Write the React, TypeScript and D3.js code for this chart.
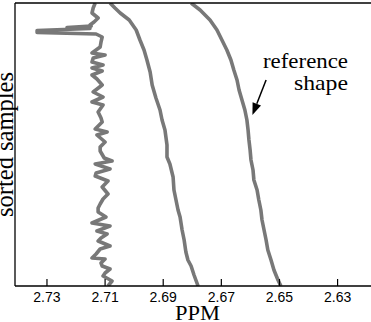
import React from "react";
import * as d3 from "d3";

// sorted sample index (0 = top) and chemical shift in PPM
const noisySeries: [number, number][] = [
  [0, 2.7134], [5, 2.7141], [10, 2.7145], [15, 2.7124], [19, 2.7138], [22, 2.7152],
  [23, 2.7148], [24.5, 2.7231], [25.5, 2.7152], [27.5, 2.7334], [29.5, 2.7334],
  [31, 2.7131], [34, 2.711], [39, 2.7114], [44, 2.7117], [50, 2.7145], [52, 2.71],
  [55, 2.7141], [59, 2.7145], [62, 2.7107], [65, 2.7145], [68, 2.711], [72, 2.7145],
  [76, 2.7128], [82, 2.711], [89, 2.7141], [94, 2.7107], [99, 2.7145], [102, 2.7107],
  [109, 2.7124], [115, 2.7114], [119, 2.711], [126, 2.7134], [129, 2.7093], [132, 2.7128],
  [139, 2.71], [144, 2.7117], [148, 2.7117], [155, 2.7103], [158, 2.7076], [161, 2.7134],
  [166, 2.7083], [170, 2.7131], [173, 2.7134], [178, 2.709], [184, 2.711], [191, 2.709],
  [196, 2.7107], [201, 2.7117], [205, 2.7124], [209, 2.7124], [214, 2.7097], [220, 2.7145],
  [223, 2.7083], [228, 2.7128], [231, 2.7093], [235, 2.7114], [238, 2.7124], [243, 2.7083],
  [246, 2.7117], [251, 2.7131], [255, 2.7145], [256, 2.71], [260, 2.7114], [263, 2.711],
  [266, 2.7083], [270, 2.71], [273, 2.7107], [278, 2.7076], [283, 2.709],
];

const middleSeries: [number, number][] = [
  [0, 2.7083], [5, 2.7066], [10, 2.7048], [17, 2.7017], [27, 2.6993], [37, 2.698],
  [47, 2.6966], [57, 2.6956], [69, 2.6945], [82, 2.6938], [95, 2.6925], [107, 2.6911],
  [117, 2.6904], [127, 2.6894], [142, 2.6887], [154, 2.6887], [161, 2.6877], [174, 2.6866],
  [187, 2.6863], [197, 2.6856], [207, 2.6849], [214, 2.6842], [227, 2.6835], [237, 2.6828],
  [249, 2.6822], [257, 2.6815], [263, 2.6804], [272, 2.6794], [283, 2.678],
];

const referenceSeries: [number, number][] = [
  [0, 2.6804], [7, 2.6773], [17, 2.6739], [27, 2.6715], [37, 2.6698], [47, 2.6681],
  [57, 2.6667], [67, 2.6657], [77, 2.6646], [87, 2.6639], [97, 2.6629], [107, 2.6619],
  [117, 2.6612], [127, 2.6608], [137, 2.6605], [147, 2.6601], [157, 2.6598], [167, 2.6591],
  [177, 2.6588], [187, 2.6577], [197, 2.6571], [207, 2.6564], [217, 2.656], [227, 2.6553],
  [237, 2.6546], [247, 2.654], [257, 2.6529], [267, 2.6519], [277, 2.6505], [283, 2.6495],
];

const xTicks = [2.73, 2.71, 2.69, 2.67, 2.65, 2.63];
const xDomain = [2.741, 2.6185];
const yDomain = [0, 283];
const xLabel = "PPM";
const yLabel = "sorted samples";
const annotationLines = ["reference", "shape"];
// annotation arrow: from (sample, ppm) to (sample, ppm)
const arrowFrom: [number, number] = [77, 2.6546];
const arrowTo: [number, number] = [112, 2.6593];

export default function App() {
  const W = 371;
  const H = 322;
  const left = 15, right = 371, top = 3, bottom = 286;
  const x = d3.scaleLinear().domain(xDomain).range([left, right]);
  const y = d3.scaleLinear().domain(yDomain).range([top, bottom]);
  const line = d3
    .line<[number, number]>()
    .x((d) => x(d[1]))
    .y((d) => y(d[0]));
  const fmt = d3.format(".2f");
  const serif = "'Liberation Serif', 'Times New Roman', serif";
  const sans = "'Liberation Sans', Arial, Helvetica, sans-serif";
  const ax1 = x(arrowFrom[1]), ay1 = y(arrowFrom[0]);
  const ax2 = x(arrowTo[1]), ay2 = y(arrowTo[0]);
  const ang = Math.atan2(ay2 - ay1, ax2 - ax1);
  const hl = 12, hw = 4.5;
  const bx = ax2 - hl * Math.cos(ang), by = ay2 - hl * Math.sin(ang);
  const head = `M${ax2},${ay2} L${bx + hw * Math.sin(ang)},${by - hw * Math.cos(ang)} L${bx - hw * Math.sin(ang)},${by + hw * Math.cos(ang)} Z`;

  return (
    <svg width={W} height={H} style={{ position: "absolute", left: 0, top: 0, background: "#fff" }}>
      <defs>
        <clipPath id="plotclip">
          <rect x={left} y={top} width={right - left} height={bottom - top} />
        </clipPath>
      </defs>
      <g clipPath="url(#plotclip)" fill="none" stroke="#787878" strokeWidth={3.6} strokeLinejoin="round">
        <path d={line(noisySeries) || ""} />
        <path d={line(middleSeries) || ""} />
        <path d={line(referenceSeries) || ""} />
      </g>
      {/* frame */}
      <line x1={left} x2={right} y1={top} y2={top} stroke="#000" strokeWidth={1.3} />
      <line x1={left} x2={left} y1={top} y2={bottom} stroke="#000" strokeWidth={1.3} />
      <line x1={left} x2={right} y1={bottom} y2={bottom} stroke="#000" strokeWidth={1.3} />
      {xTicks.map((t) => (
        <g key={t}>
          <line x1={x(t)} x2={x(t)} y1={bottom} y2={bottom - 7} stroke="#000" strokeWidth={1.2} />
          <text x={x(t)} y={302} textAnchor="middle" fontFamily={sans} fontSize={14} fill="#000">
            {fmt(t)}
          </text>
        </g>
      ))}
      <text x={197.5} y={319.5} textAnchor="middle" fontFamily={serif} fontSize={21} textLength={45} lengthAdjust="spacingAndGlyphs">
        {xLabel}
      </text>
      <text
        transform={`translate(13, 144.5) rotate(-90)`}
        textAnchor="middle"
        fontFamily={serif}
        fontSize={25}
        textLength={145}
        lengthAdjust="spacingAndGlyphs"
      >
        {yLabel}
      </text>
      <text x={348} y={67.7} textAnchor="end" fontFamily={serif} fontSize={21} textLength={85} lengthAdjust="spacingAndGlyphs">
        {annotationLines[0]}
      </text>
      <text x={348} y={90} textAnchor="end" fontFamily={serif} fontSize={21} textLength={54} lengthAdjust="spacingAndGlyphs">
        {annotationLines[1]}
      </text>
      <line x1={ax1} y1={ay1} x2={bx} y2={by} stroke="#000" strokeWidth={1.5} />
      <path d={head} fill="#000" />
    </svg>
  );
}
